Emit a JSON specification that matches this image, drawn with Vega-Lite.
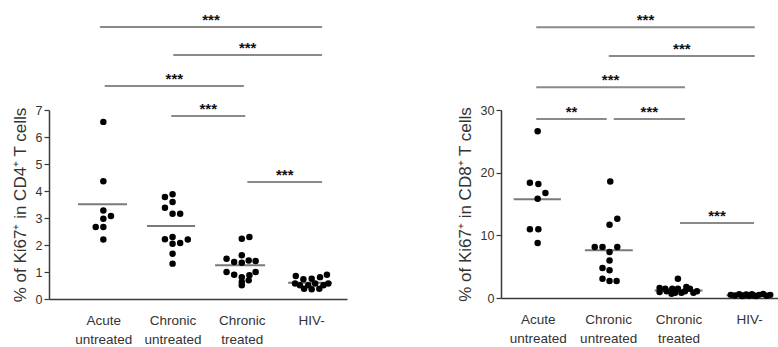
{
  "$schema": "https://vega.github.io/schema/vega-lite/v6.json",
  "padding": {"left": 11, "top": 13, "right": 0, "bottom": 0},
  "background": "white",
  "config": {
    "font": "Liberation Sans",
    "view": {"stroke": null},
    "axis": {"grid": false, "domainColor": "#3a3a3a", "domainWidth": 1.5, "tickColor": "#3a3a3a", "tickWidth": 1.2, "labelColor": "#333", "titleColor": "#333", "labelFont": "Liberation Sans", "titleFont": "Liberation Sans"}
  },
  "datasets": {
    "cd4pts": [
      {"group": "Acute untreated", "x": 1.0, "value": 6.56},
      {"group": "Acute untreated", "x": 1.0, "value": 4.36},
      {"group": "Acute untreated", "x": 1.0, "value": 3.28},
      {"group": "Acute untreated", "x": 1.11, "value": 3.07},
      {"group": "Acute untreated", "x": 1.0, "value": 2.97},
      {"group": "Acute untreated", "x": 0.89, "value": 2.67},
      {"group": "Acute untreated", "x": 1.0, "value": 2.67},
      {"group": "Acute untreated", "x": 1.0, "value": 2.2},
      {"group": "Chronic untreated", "x": 1.89, "value": 3.78},
      {"group": "Chronic untreated", "x": 2.0, "value": 3.88},
      {"group": "Chronic untreated", "x": 2.0, "value": 3.59},
      {"group": "Chronic untreated", "x": 1.89, "value": 3.38},
      {"group": "Chronic untreated", "x": 2.0, "value": 3.16},
      {"group": "Chronic untreated", "x": 2.11, "value": 3.16},
      {"group": "Chronic untreated", "x": 1.89, "value": 2.21},
      {"group": "Chronic untreated", "x": 2.0, "value": 2.3},
      {"group": "Chronic untreated", "x": 2.0, "value": 2.05},
      {"group": "Chronic untreated", "x": 2.11, "value": 2.07},
      {"group": "Chronic untreated", "x": 2.22, "value": 2.2},
      {"group": "Chronic untreated", "x": 2.0, "value": 1.68},
      {"group": "Chronic untreated", "x": 2.0, "value": 1.31},
      {"group": "Chronic treated", "x": 3.0, "value": 2.23},
      {"group": "Chronic treated", "x": 3.11, "value": 2.3},
      {"group": "Chronic treated", "x": 2.78, "value": 1.49},
      {"group": "Chronic treated", "x": 3.0, "value": 1.62},
      {"group": "Chronic treated", "x": 2.89, "value": 1.37},
      {"group": "Chronic treated", "x": 3.0, "value": 1.34},
      {"group": "Chronic treated", "x": 3.1, "value": 1.43},
      {"group": "Chronic treated", "x": 3.2, "value": 1.41},
      {"group": "Chronic treated", "x": 2.78, "value": 1.0},
      {"group": "Chronic treated", "x": 2.89, "value": 0.9},
      {"group": "Chronic treated", "x": 3.0, "value": 0.81},
      {"group": "Chronic treated", "x": 3.11, "value": 0.88},
      {"group": "Chronic treated", "x": 3.2, "value": 1.0},
      {"group": "Chronic treated", "x": 3.0, "value": 0.63},
      {"group": "Chronic treated", "x": 3.1, "value": 0.69},
      {"group": "Chronic treated", "x": 3.0, "value": 0.51},
      {"group": "HIV-", "x": 3.78, "value": 0.85},
      {"group": "HIV-", "x": 4.23, "value": 0.9},
      {"group": "HIV-", "x": 4.13, "value": 0.81},
      {"group": "HIV-", "x": 3.89, "value": 0.73},
      {"group": "HIV-", "x": 4.01, "value": 0.75},
      {"group": "HIV-", "x": 3.77, "value": 0.57},
      {"group": "HIV-", "x": 3.84, "value": 0.51},
      {"group": "HIV-", "x": 3.96, "value": 0.51},
      {"group": "HIV-", "x": 4.06, "value": 0.57},
      {"group": "HIV-", "x": 4.25, "value": 0.57},
      {"group": "HIV-", "x": 3.9, "value": 0.38},
      {"group": "HIV-", "x": 4.01, "value": 0.36},
      {"group": "HIV-", "x": 4.12, "value": 0.38},
      {"group": "HIV-", "x": 4.18, "value": 0.51}
    ],
    "cd4means": [
      {"group": "Acute untreated", "x1": 0.634, "x2": 1.342, "value": 3.51},
      {"group": "Chronic untreated", "x1": 1.631, "x2": 2.325, "value": 2.7},
      {"group": "Chronic treated", "x1": 2.614, "x2": 3.337, "value": 1.25},
      {"group": "HIV-", "x1": 3.67, "x2": 4.3, "value": 0.6}
    ],
    "cd4sig": [
      {"x1": 0.95, "x2": 4.16, "mid": 2.555, "y": 10.07, "label": "***"},
      {"x1": 2.01, "x2": 4.16, "mid": 3.085, "y": 9.04, "label": "***"},
      {"x1": 1.02, "x2": 3.03, "mid": 2.025, "y": 7.89, "label": "***"},
      {"x1": 1.98, "x2": 3.05, "mid": 2.515, "y": 6.78, "label": "***"},
      {"x1": 3.08, "x2": 4.16, "mid": 3.62, "y": 4.33, "label": "***"}
    ],
    "cd8pts": [
      {"group": "Acute untreated", "x": 1.0, "value": 26.6},
      {"group": "Acute untreated", "x": 0.89, "value": 18.4},
      {"group": "Acute untreated", "x": 1.01, "value": 18.2},
      {"group": "Acute untreated", "x": 1.11, "value": 16.75},
      {"group": "Acute untreated", "x": 1.0, "value": 15.85},
      {"group": "Acute untreated", "x": 0.89, "value": 10.96},
      {"group": "Acute untreated", "x": 1.01, "value": 10.96},
      {"group": "Acute untreated", "x": 1.0, "value": 8.78},
      {"group": "Chronic untreated", "x": 2.03, "value": 18.6},
      {"group": "Chronic untreated", "x": 2.13, "value": 12.66},
      {"group": "Chronic untreated", "x": 2.02, "value": 11.7},
      {"group": "Chronic untreated", "x": 1.81, "value": 8.14},
      {"group": "Chronic untreated", "x": 1.92, "value": 8.14},
      {"group": "Chronic untreated", "x": 2.13, "value": 8.14},
      {"group": "Chronic untreated", "x": 2.02, "value": 7.34},
      {"group": "Chronic untreated", "x": 2.02, "value": 6.0},
      {"group": "Chronic untreated", "x": 1.92, "value": 4.79},
      {"group": "Chronic untreated", "x": 2.02, "value": 4.42},
      {"group": "Chronic untreated", "x": 1.92, "value": 3.08},
      {"group": "Chronic untreated", "x": 2.02, "value": 2.71},
      {"group": "Chronic untreated", "x": 2.12, "value": 2.71},
      {"group": "Chronic treated", "x": 2.99, "value": 3.08},
      {"group": "Chronic treated", "x": 2.73, "value": 1.6},
      {"group": "Chronic treated", "x": 2.83, "value": 1.07},
      {"group": "Chronic treated", "x": 2.91, "value": 1.48},
      {"group": "Chronic treated", "x": 2.99, "value": 1.48},
      {"group": "Chronic treated", "x": 3.09, "value": 1.07},
      {"group": "Chronic treated", "x": 3.16, "value": 1.48},
      {"group": "Chronic treated", "x": 3.26, "value": 1.07},
      {"group": "Chronic treated", "x": 2.73, "value": 0.96},
      {"group": "Chronic treated", "x": 2.95, "value": 0.85},
      {"group": "Chronic treated", "x": 3.04, "value": 0.85},
      {"group": "Chronic treated", "x": 3.21, "value": 0.85},
      {"group": "Chronic treated", "x": 2.81, "value": 1.48},
      {"group": "Chronic treated", "x": 3.11, "value": 1.75},
      {"group": "Chronic treated", "x": 2.9, "value": 0.69},
      {"group": "HIV-", "x": 3.74, "value": 0.5},
      {"group": "HIV-", "x": 3.8, "value": 0.4},
      {"group": "HIV-", "x": 3.86, "value": 0.6},
      {"group": "HIV-", "x": 3.9, "value": 0.3},
      {"group": "HIV-", "x": 3.96, "value": 0.55},
      {"group": "HIV-", "x": 4.0, "value": 0.35},
      {"group": "HIV-", "x": 4.04, "value": 0.6},
      {"group": "HIV-", "x": 4.1, "value": 0.3},
      {"group": "HIV-", "x": 4.14, "value": 0.5},
      {"group": "HIV-", "x": 4.2, "value": 0.65},
      {"group": "HIV-", "x": 4.25, "value": 0.35},
      {"group": "HIV-", "x": 4.3, "value": 0.5},
      {"group": "HIV-", "x": 3.93, "value": 0.45},
      {"group": "HIV-", "x": 4.07, "value": 0.4}
    ],
    "cd8means": [
      {"group": "Acute untreated", "x1": 0.66, "x2": 1.33, "value": 15.75},
      {"group": "Chronic untreated", "x1": 1.67, "x2": 2.35, "value": 7.6},
      {"group": "Chronic treated", "x1": 2.66, "x2": 3.34, "value": 1.2},
      {"group": "HIV-", "x1": 3.68, "x2": 4.33, "value": 0.45}
    ],
    "cd8sig": [
      {"x1": 0.98, "x2": 4.08, "mid": 2.53, "y": 43.2, "label": "***"},
      {"x1": 2.01, "x2": 4.08, "mid": 3.045, "y": 38.6, "label": "***"},
      {"x1": 0.98, "x2": 3.09, "mid": 2.035, "y": 33.65, "label": "***"},
      {"x1": 0.98, "x2": 1.98, "mid": 1.48, "y": 28.55, "label": "**"},
      {"x1": 2.08, "x2": 3.09, "mid": 2.585, "y": 28.55, "label": "***"},
      {"x1": 3.02, "x2": 4.07, "mid": 3.545, "y": 11.96, "label": "***"}
    ]
  },
  "hconcat": [
    {
      "width": 298,
      "height": 189,
      "encoding": {
        "y": {"type": "quantitative", "scale": {"domain": [0, 7], "nice": false},
          "axis": {"values": [0, 1, 2, 3, 4, 5, 6, 7], "tickCount": 8, "labelOverlap": false, "tickSize": 5, "labelFontSize": 12.5, "labelPadding": 2, "title": "% of Ki67⁺ in CD4⁺ T cells", "titleFontSize": 17, "titleFontWeight": "normal", "titlePadding": 6}}
      },
      "layer": [
        {
          "data": {"name": "cd4sig"},
          "mark": {"type": "rule", "color": "#8a8a8a", "strokeWidth": 2},
          "encoding": {
            "x": {"field": "x1", "type": "quantitative", "scale": {"domain": [0.215, 4.52], "nice": false, "zero": false},
              "axis": {"values": [1, 2, 3, 4], "ticks": false, "title": null, "labelFontSize": 13.5, "labelPadding": 14, "labelLineHeight": 19, "labelOverlap": false, "labelFlush": false,
                "labelExpr": "datum.value == 1 ? ['Acute', 'untreated'] : datum.value == 2 ? ['Chronic', 'untreated'] : datum.value == 3 ? ['Chronic', 'treated'] : 'HIV-'"}},
            "x2": {"field": "x2"},
            "y": {"field": "y"}
          }
        },
        {
          "data": {"name": "cd4sig"},
          "mark": {"type": "text", "fontSize": 15, "fontWeight": "bold", "color": "#111", "baseline": "alphabetic", "dy": -2},
          "encoding": {
            "x": {"field": "mid", "type": "quantitative"},
            "y": {"field": "y"},
            "text": {"field": "label"}
          }
        },
        {
          "data": {"name": "cd4means"},
          "mark": {"type": "rule", "color": "#7a7a7a", "strokeWidth": 2},
          "encoding": {
            "x": {"field": "x1", "type": "quantitative"},
            "x2": {"field": "x2"},
            "y": {"field": "value"}
          }
        },
        {
          "data": {"name": "cd4pts"},
          "mark": {"type": "circle", "size": 42, "color": "#000", "opacity": 1},
          "encoding": {
            "x": {"field": "x", "type": "quantitative"},
            "y": {"field": "value"}
          }
        }
      ]
    },
    {
      "width": 277,
      "height": 188,
      "encoding": {
        "y": {"type": "quantitative", "scale": {"domain": [0, 30], "nice": false},
          "axis": {"values": [0, 10, 20, 30], "labelOverlap": false, "tickSize": 5, "labelFontSize": 12.5, "labelPadding": 2, "title": "% of Ki67⁺ in CD8⁺ T cells", "titleFontSize": 17, "titleFontWeight": "normal", "titlePadding": 6}}
      },
      "layer": [
        {
          "data": {"name": "cd8sig"},
          "mark": {"type": "rule", "color": "#8a8a8a", "strokeWidth": 2},
          "encoding": {
            "x": {"field": "x1", "type": "quantitative", "scale": {"domain": [0.48, 4.41], "nice": false, "zero": false},
              "axis": {"values": [1, 2, 3, 4], "ticks": false, "title": null, "labelFontSize": 13.5, "labelPadding": 14, "labelLineHeight": 19, "labelOverlap": false, "labelFlush": false,
                "labelExpr": "datum.value == 1 ? ['Acute', 'untreated'] : datum.value == 2 ? ['Chronic', 'untreated'] : datum.value == 3 ? ['Chronic', 'treated'] : 'HIV-'"}},
            "x2": {"field": "x2"},
            "y": {"field": "y"}
          }
        },
        {
          "data": {"name": "cd8sig"},
          "mark": {"type": "text", "fontSize": 15, "fontWeight": "bold", "color": "#111", "baseline": "alphabetic", "dy": -2},
          "encoding": {
            "x": {"field": "mid", "type": "quantitative"},
            "y": {"field": "y"},
            "text": {"field": "label"}
          }
        },
        {
          "data": {"name": "cd8means"},
          "mark": {"type": "rule", "color": "#7a7a7a", "strokeWidth": 2},
          "encoding": {
            "x": {"field": "x1", "type": "quantitative"},
            "x2": {"field": "x2"},
            "y": {"field": "value"}
          }
        },
        {
          "data": {"name": "cd8pts"},
          "mark": {"type": "circle", "size": 42, "color": "#000", "opacity": 1},
          "encoding": {
            "x": {"field": "x", "type": "quantitative"},
            "y": {"field": "value"}
          }
        }
      ]
    }
  ],
  "spacing": 154,
  "bounds": "flush"
}
